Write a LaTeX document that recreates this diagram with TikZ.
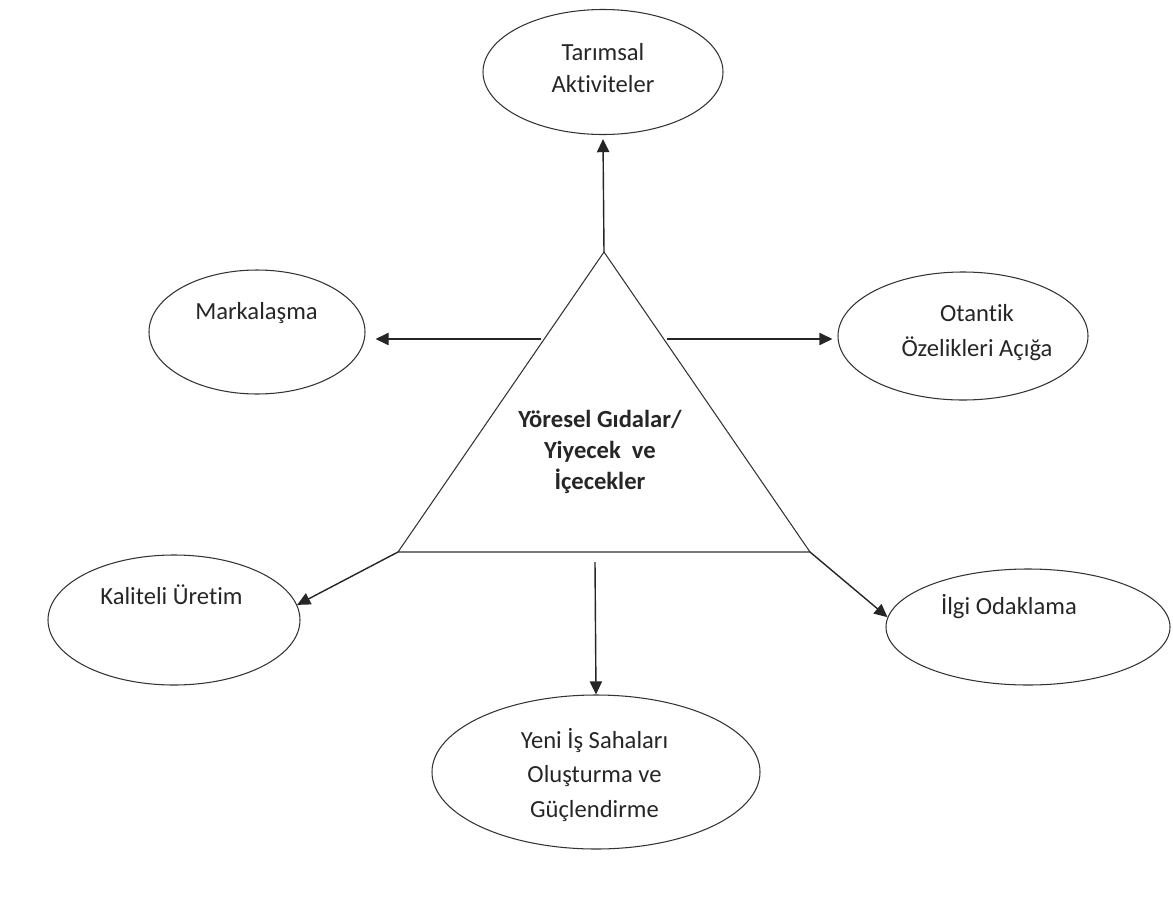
\documentclass[tikz,border=0pt]{standalone}
\usepackage{fontspec}
\setmainfont{Carlito}[Ligatures=NoCommon]
\usepackage{tikz}
\usetikzlibrary{arrows.meta, shapes.geometric, calc}

\begin{document}
\begin{tikzpicture}[
  oval/.style={ellipse, draw=black!80, line width=0.6pt, inner sep=0pt},
  txt/.style={align=center, font=\fontsize{14}{18}\selectfont, text=black!85},
  arr/.style={-{Triangle[length=7.5pt, width=7pt]}, line width=0.8pt, black!85},
  tri/.style={draw=black!80, line width=0.6pt}
]
\useasboundingbox (0, 0) rectangle (23.46, -18.18);

% central triangle
\coordinate (apex) at (12.08, -5.04);
\coordinate (bl) at (7.96, -11.04);
\coordinate (br) at (16.2, -11.04);
\draw[tri] (apex) -- (bl) -- (br) -- cycle;
\node[txt, font=\bfseries\fontsize{14}{17.6}\selectfont] (food) at (12.0, -9.04)
  {Yöresel Gıdalar/\\Yiyecek\ \ ve\\İçecekler};

% outer ellipses
\node[oval, minimum width=4.8cm, minimum height=2.5cm] (tarim) at (12.06, -1.44) {};
\node[txt] (tarimt) at (12.06, -1.36) {Tarımsal\\Aktiviteler};
\node[oval, minimum width=4.32cm, minimum height=2.48cm] (marka) at (5.14, -6.64) {};
\node[txt] (markat) at (5.13, -6.26) {Markalaşma};
\node[oval, minimum width=5.0cm, minimum height=2.56cm] (otantik) at (19.26, -6.72) {};
\node[txt, font=\fontsize{14}{19.8}\selectfont] (otantikt) at (19.54, -6.65)
  {Otantik\\Özelikleri Açığa};
\node[oval, minimum width=5.04cm, minimum height=2.6cm] (kalite) at (3.48, -12.4) {};
\node[txt] (kalitet) at (3.43, -11.9) {Kaliteli Üretim};
\node[oval, minimum width=5.68cm, minimum height=2.32cm] (ilgi) at (20.56, -12.54) {};
\node[txt] (ilgit) at (20.18, -12.14) {İlgi Odaklama};
\node[oval, minimum width=6.56cm, minimum height=3.08cm] (yeni) at (11.92, -15.44) {};
\node[txt, font=\fontsize{14}{19.8}\selectfont] (yenit) at (11.89, -15.5)
  {Yeni İş Sahaları\\Oluşturma ve\\Güçlendirme};

% arrows
\coordinate (tl) at ($(apex)!0.29!(bl)$);
\coordinate (tr) at ($(apex)!0.29!(br)$);
\coordinate (bm) at (11.9, -11.24);
\draw[arr] (apex) -- ([yshift=-0.08cm]tarim.south);
\draw[arr] ([xshift=-0.06cm]tl) -- ([xshift=0.2cm]tl -| marka.east);
\draw[arr] ([xshift=0.06cm]tr) -- ([xshift=-0.1cm]tr -| otantik.west);
\draw[arr] (bl) -- (kalite.7);
\draw[arr] (br) -- (ilgi.176);
\draw[arr] (bm) -- (yeni.north);
\end{tikzpicture}
\end{document}
